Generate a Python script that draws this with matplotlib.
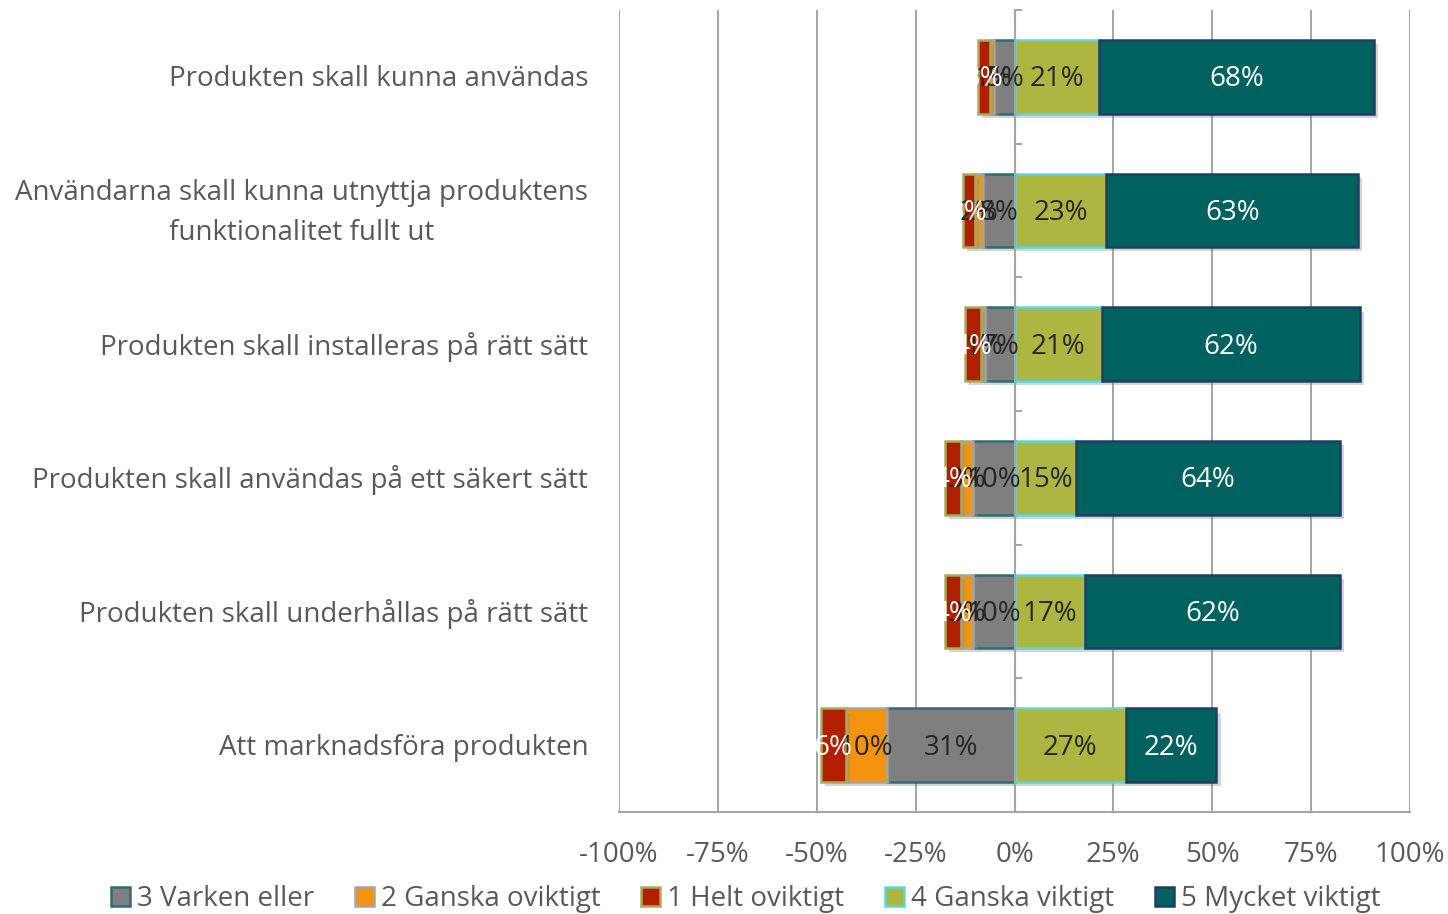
import numpy as np
import matplotlib
matplotlib.use("Agg")
from matplotlib import pyplot as plt
from matplotlib.patches import Patch
import matplotlib.patheffects as pe
import matplotlib.transforms as mtransforms

# data (percent labels as shown; bars are normalised to the row total)
categories = ["Produkten skall kunna användas",
              "Användarna skall kunna utnyttja produktens\nfunktionalitet fullt ut",
              "Produkten skall installeras på rätt sätt",
              "Produkten skall användas på ett säkert sätt",
              "Produkten skall underhållas på rätt sätt",
              "Att marknadsföra produkten"]
helt_oviktigt = [3, 3, 4, 4, 4, 6]
ganska_oviktigt = [1, 2, 1, 3, 3, 10]
varken = [5, 8, 7, 10, 10, 31]
ganska_viktigt = [21, 23, 21, 15, 17, 27]
mycket_viktigt = [68, 63, 62, 64, 62, 22]
xticks = [-1, -0.75, -0.5, -0.25, 0, 0.25, 0.5, 0.75, 1]

plt.rcParams['font.family'] = ['Open Sans', 'DejaVu Sans']
txt = '#595959'
fs = 20

fig = plt.figure(figsize=(14.48, 9.14), dpi=100)
ax = fig.add_axes([0.4275, 0.1116, 0.5463, 0.8775])

h1 = np.array(helt_oviktigt, float)
h2 = np.array(ganska_oviktigt, float)
h3 = np.array(varken, float)
h4 = np.array(ganska_viktigt, float)
h5 = np.array(mycket_viktigt, float)
tot = h1 + h2 + h3 + h4 + h5
y = np.arange(len(categories))

shadow = [pe.SimplePatchShadow(offset=(3, -3), shadow_rgbFace='#888888', alpha=0.35), pe.Normal()]

# (label, values, face, edge, label colour)
series = [
    ("3 Varken eller", h3, '#7f7f7f', '#2d6e70', '#262626'),
    ("2 Ganska oviktigt", h2, '#f3940c', '#a5a5a5', '#262626'),
    ("1 Helt oviktigt", h1, '#b01f00', '#a8ab5c', 'white'),
    ("4 Ganska viktigt", h4, '#adb640', '#5ad6dc', '#262626'),
    ("5 Mycket viktigt", h5, '#00625f', '#1f3d66', 'white'),
]

neg_left = np.zeros(len(y))
pos_left = np.zeros(len(y))
for name, vals, fc, ec, lc in series:
    w = vals / tot
    if name[0] in "123":
        left = neg_left - w
        neg_left = left
    else:
        left = pos_left
        pos_left = pos_left + w
    bars = ax.barh(y, w, left=left, height=0.55, color=fc, edgecolor=ec, linewidth=1.8, zorder=3)
    for b in bars:
        b.set_path_effects(shadow)
    for yi, l, wi, v in zip(y, left, w, vals):
        ax.text(l + wi / 2, yi + 0.02, f"{int(v)}%", ha='center', va='center',
                color=lc, fontsize=fs, zorder=5)

ax.set_xlim(-1, 1)
ax.set_ylim(5.5, -0.5)
ax.set_xticks(xticks)
ax.set_xticklabels([f"{int(round(t * 100))}%" for t in xticks], color=txt, fontsize=fs)
ax.tick_params(axis='x', length=0, pad=21)
ax.xaxis.grid(True, color='#a6a6a6', linewidth=1.5, zorder=0)

# y-axis at zero with ticks between categories
ax.spines['left'].set_position(('data', 0))
ax.spines['left'].set_color('#a6a6a6')
ax.spines['left'].set_linewidth(1.5)
ax.spines['left'].set_zorder(4)
ax.set_yticks(np.arange(-0.5, len(y), 1))
ax.set_yticklabels([])
ax.tick_params(axis='y', direction='in', length=5, color='#a6a6a6', width=1.5)
ax.spines['bottom'].set_color('#a6a6a6')
ax.spines['bottom'].set_linewidth(1.5)
ax.spines['top'].set_visible(False)
ax.spines['right'].set_visible(False)

trans = mtransforms.blended_transform_factory(ax.transAxes, ax.transData)
for yi, c in zip(y, categories):
    ax.text(-0.039, yi + 0.02, c, transform=trans, ha='right', va='center',
            multialignment='center', color=txt, fontsize=fs, linespacing=1.58)

handles = [Patch(facecolor=fc, edgecolor=ec, linewidth=1.8, label=name)
           for name, vals, fc, ec, lc in series]
leg = fig.legend(handles=handles, loc='center', bbox_to_anchor=(0.515, 0.016), ncol=5,
                 frameon=False, fontsize=fs, handlelength=0.7, handleheight=0.7,
                 handletextpad=0.25, columnspacing=1.45, borderaxespad=0)
for t in leg.get_texts():
    t.set_color(txt)

fig.savefig("out.png", dpi=100)
